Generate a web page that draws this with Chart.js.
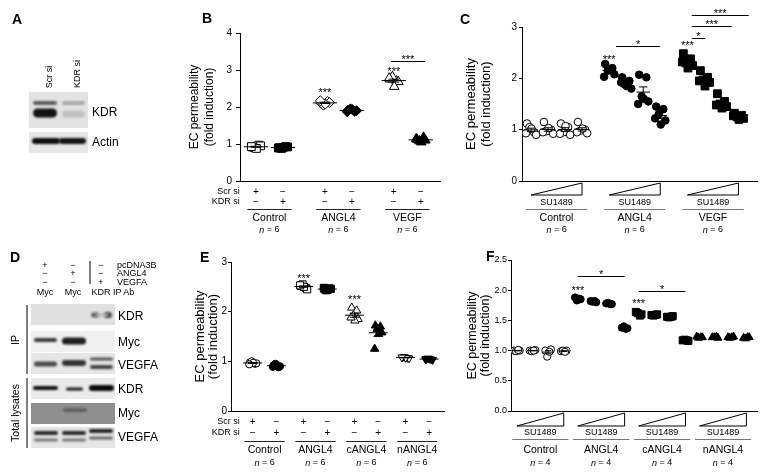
<!DOCTYPE html>
<html>
<head>
<meta charset="utf-8">
<script src="https://cdn.jsdelivr.net/npm/chart.js@4.4.0/dist/chart.umd.min.js"></script>
<style>
  body { margin: 0; background: #fff; width: 765px; height: 474px; position: relative; overflow: hidden;
         font-family: "Liberation Sans", Arial, sans-serif; }
  canvas { position: absolute; }
  .lbl { position: absolute; color: #000; white-space: nowrap; line-height: 1; }
</style>
</head>
<body>
<canvas id="blots" width="160" height="474" style="left:0;top:0"></canvas>
<script>
const FONT = '"Liberation Sans", Arial, sans-serif';
Chart.defaults.font.family = FONT;
Chart.defaults.color = '#000';

// ---- Panel B: EC permeability, Scr si vs KDR si ----
const bGroupNames = ['Control', 'ANGL4', 'VEGF'];
const bN = ['6', '6', '6'];
const bScrSi = [
  [0.92, 0.97, 0.90, 0.95, 0.88, 0.93],
  [2.10, 2.15, 2.05, 2.12, 2.08, 2.17],
  [2.75, 2.70, 2.82, 2.68, 2.55, 2.78]
];
const bKdrSi = [
  [0.90, 0.93, 0.88, 0.92, 0.91, 0.89],
  [1.92, 1.88, 1.95, 1.90, 1.93, 1.87],
  [1.12, 1.18, 1.08, 1.10, 1.05, 1.14]
];
const bYTicks = [0, 1, 2, 3, 4];

// ---- Panel C: SU1489 dose series (4 doses each) ----
const cGroupNames = ['Control', 'ANGL4', 'VEGF'];
const cN = ['6', '6', '6'];
const cControl = [
  [1.12, 0.95, 1.05, 0.90, 1.02, 0.93],
  [1.15, 1.00, 0.97, 0.92, 1.03, 0.95],
  [1.12, 1.05, 0.95, 0.90, 1.07, 0.92],
  [1.15, 1.00, 0.98, 0.93, 1.02, 0.95]
];
const cAngl4 = [
  [2.28, 2.20, 2.15, 2.08, 2.18, 2.03],
  [2.02, 1.95, 1.88, 1.80, 1.85, 1.92],
  [2.07, 2.02, 1.65, 1.55, 1.60, 1.50],
  [1.45, 1.40, 1.30, 1.18, 1.10, 1.22]
];
const cVegf = [
  [2.48, 2.38, 2.30, 2.25, 2.20, 2.32],
  [2.15, 2.02, 1.97, 1.92, 1.85, 1.95],
  [1.70, 1.55, 1.50, 1.45, 1.42, 1.48],
  [1.32, 1.28, 1.25, 1.22, 1.20, 1.27]
];
const cYTicks = [0, 1, 2, 3];

// ---- Panel E: Scr si vs KDR si, ANGL4 variants ----
const eGroupNames = ['Control', 'ANGL4', 'cANGL4', 'nANGL4'];
const eN = ['6', '6', '6', '6'];
const eScrSi = [
  [0.98, 0.95, 1.00, 0.96, 0.97, 0.94],
  [2.52, 2.48, 2.55, 2.45, 2.50, 2.53],
  [2.08, 2.02, 1.92, 1.85, 1.82, 1.88],
  [1.08, 1.07, 1.09, 1.06, 1.07, 1.08]
];
const eKdrSi = [
  [0.92, 0.88, 0.95, 0.90, 0.93, 0.89],
  [2.45, 2.47, 2.43, 2.46, 2.44, 2.48],
  [1.72, 1.70, 1.65, 1.58, 1.55, 1.25],
  [1.05, 1.04, 1.06, 1.03, 1.05, 1.04]
];
const eYTicks = [0, 1, 2, 3];

// ---- Panel F: SU1489 dose series, ANGL4 variants ----
const fGroupNames = ['Control', 'ANGL4', 'cANGL4', 'nANGL4'];
const fN = ['4', '4', '4', '4'];
const fControl = [[1.00, 1.00, 0.99, 1.01], [1.00, 1.01, 0.99, 1.00], [1.00, 1.02, 0.90, 0.98], [0.99, 1.00, 1.00, 0.98]];
const fAngl4 = [[1.88, 1.85, 1.83, 1.86], [1.82, 1.80, 1.81, 1.82], [1.78, 1.77, 1.79, 1.77], [1.38, 1.37, 1.40, 1.36]];
const fCangl4 = [[1.64, 1.60, 1.62, 1.58], [1.59, 1.60, 1.58, 1.59], [1.56, 1.57, 1.55, 1.56], [1.17, 1.16, 1.18, 1.17]];
const fNangl4 = [[1.23, 1.22, 1.21, 1.22], [1.22, 1.21, 1.22, 1.23], [1.22, 1.23, 1.21, 1.22], [1.21, 1.22, 1.20, 1.22]];
const fYTicks = [0, 0.5, 1.0, 1.5, 2.0, 2.5];

const siRowLabels = ['Scr si', 'KDR si'];
const siSigns = [['+', '\u2212'], ['\u2212', '+']];

// horizontal spread of the dots inside one column
const jit6 = [-0.8, 0.6, -0.3, 1.0, 0.1, -1.0];
const jit4 = [-0.9, 0.9, -0.3, 0.4];

// ---------------------------------------------------------------------------
const decor = new Map();

function dots(values, x, spread, style, filled, radius, meanW, capW, rotation) {
  const jit = values.length === 4 ? jit4 : jit6;
  return {
    data: values.map((v, i) => ({ x: x + jit[i] * spread, y: v })),
    pointStyle: style,
    pointRadius: radius,
    pointRotation: rotation || 0,
    pointBorderWidth: 1,
    pointBackgroundColor: filled ? '#000' : '#fff',
    pointBorderColor: '#000',
    stat: { x: x, w: meanW, cap: capW }
  };
}

function stars(ctx, text, x, y) {
  ctx.font = '11px ' + FONT;
  ctx.textAlign = 'center';
  ctx.textBaseline = 'alphabetic';
  ctx.fillText(text, x, y + 6.4);
}

const decorPlugin = {
  id: 'decor',
  afterDatasetsDraw(chart) {
    const ctx = chart.ctx, xs = chart.scales.x, ys = chart.scales.y;
    const u = xs.getPixelForValue(1) - xs.getPixelForValue(0);
    ctx.save();
    ctx.strokeStyle = '#000';
    ctx.lineWidth = 1;
    chart.data.datasets.forEach(ds => {
      if (!ds.stat) return;
      const v = ds.data.map(p => p.y);
      const m = v.reduce((a, b) => a + b, 0) / v.length;
      const sd = Math.sqrt(v.reduce((a, b) => a + (b - m) * (b - m), 0) / (v.length - 1));
      const sem = sd / Math.sqrt(v.length);
      const cx = xs.getPixelForValue(ds.stat.x);
      const ym = ys.getPixelForValue(m), yt = ys.getPixelForValue(m + sem), yb = ys.getPixelForValue(m - sem);
      const hw = ds.stat.w * u, cw = ds.stat.cap * u;
      ctx.beginPath();
      ctx.moveTo(cx - hw, ym); ctx.lineTo(cx + hw, ym);
      ctx.moveTo(cx, yt); ctx.lineTo(cx, yb);
      ctx.moveTo(cx - cw, yt); ctx.lineTo(cx + cw, yt);
      ctx.moveTo(cx - cw, yb); ctx.lineTo(cx + cw, yb);
      ctx.stroke();
    });
    ctx.restore();
  },
  afterDraw(chart) {
    const d = decor.get(chart.canvas.id);
    if (!d) return;
    const ctx = chart.ctx, xs = chart.scales.x, ys = chart.scales.y, a = chart.chartArea;
    const X = v => xs.getPixelForValue(v), Y = v => ys.getPixelForValue(v);
    const u = X(1) - X(0);
    ctx.save();
    ctx.fillStyle = '#000';
    ctx.strokeStyle = '#000';
    ctx.lineWidth = 1;

    // y axis title
    ctx.font = d.titleSize + 'px ' + FONT;
    ctx.textAlign = 'center';
    ctx.textBaseline = 'middle';
    const cy = (a.top + a.bottom) / 2;
    d.title.forEach((t, i) => {
      ctx.save();
      ctx.translate(a.left + d.titleX[i], cy);
      ctx.rotate(-Math.PI / 2);
      ctx.fillText(t, 0, 0);
      ctx.restore();
    });

    // +/- rows
    if (d.rows) {
      ctx.textBaseline = 'middle';
      const firstX = X(d.groups[0].members[0]) - d.rows.labelGap * u;
      d.rows.labels.forEach((lab, r) => {
        const y = a.bottom + d.rows.dy[r];
        ctx.font = '9px ' + FONT;
        ctx.textAlign = 'right';
        ctx.fillText(lab, firstX, y);
        ctx.font = '10px ' + FONT;
        ctx.textAlign = 'center';
        d.groups.forEach(g => g.members.forEach((mx, k) => ctx.fillText(d.rows.signs[r][k], X(mx), y)));
      });
    }

    d.groups.forEach(g => {
      const x0 = X(g.members[0]), x1 = X(g.members[g.members.length - 1]);
      const mid = (x0 + x1) / 2;
      // dose wedge
      if (d.wedge) {
        ctx.strokeStyle = '#000';
        ctx.beginPath();
        ctx.moveTo(x0, a.bottom + d.wedge.bot);
        ctx.lineTo(x1, a.bottom + d.wedge.bot);
        ctx.lineTo(x1, a.bottom + d.wedge.top);
        ctx.closePath();
        ctx.stroke();
        ctx.font = '9px ' + FONT;
        ctx.textAlign = 'center';
        ctx.textBaseline = 'middle';
        ctx.fillText(d.wedge.text, mid, a.bottom + d.wedge.textDy);
      }
      // group line
      ctx.strokeStyle = d.lineColor;
      ctx.beginPath();
      ctx.moveTo(x0 - d.linePad * u, a.bottom + d.lineDy + 0.5);
      ctx.lineTo(x1 + d.linePad * u, a.bottom + d.lineDy + 0.5);
      ctx.stroke();
      // name
      ctx.font = '10.5px ' + FONT;
      ctx.textAlign = 'center';
      ctx.textBaseline = 'middle';
      ctx.fillText(g.name, mid, a.bottom + d.nameDy);
      // n = ..
      ctx.font = 'italic 9px ' + FONT;
      const w1 = ctx.measureText('n').width;
      ctx.font = '9px ' + FONT;
      const rest = ' = ' + g.n;
      const w2 = ctx.measureText(rest).width;
      const sx = mid - (w1 + w2) / 2;
      ctx.textAlign = 'left';
      ctx.font = 'italic 9px ' + FONT;
      ctx.fillText('n', sx, a.bottom + d.nDy);
      ctx.font = '9px ' + FONT;
      ctx.fillText(rest, sx + w1, a.bottom + d.nDy);
    });

    // significance
    ctx.strokeStyle = '#000';
    (d.stars || []).forEach(s => stars(ctx, s.t, X(s.x), Y(s.y)));
    (d.brackets || []).forEach(b => {
      const y = Math.round(Y(b.y)) + 0.5;
      ctx.beginPath();
      ctx.moveTo(X(b.x1), y); ctx.lineTo(X(b.x2), y);
      ctx.stroke();
      stars(ctx, b.t, (X(b.x1) + X(b.x2)) / 2, y - 5);
    });
    ctx.restore();
  }
};

function makeChart(id, box, area, xr, yTicks, tick, datasets, cfg) {
  const cv = document.createElement('canvas');
  cv.id = id;
  cv.width = box.w; cv.height = box.h;
  cv.style.left = box.x + 'px'; cv.style.top = box.y + 'px';
  document.body.appendChild(cv);
  decor.set(id, cfg);
  const yW = 30;
  return new Chart(cv, {
    type: 'scatter',
    data: { datasets },
    options: {
      responsive: false,
      animation: false,
      devicePixelRatio: 1,
      events: [],
      layout: { padding: { left: area.l - box.x - yW, right: box.x + box.w - area.r, top: area.t - box.y, bottom: box.y + box.h - area.b } },
      plugins: { legend: { display: false }, tooltip: { enabled: false } },
      scales: {
        x: {
          type: 'linear', min: xr[0], max: xr[1],
          ticks: { display: false }, grid: { display: false },
          border: { color: '#000', width: 1 },
          afterFit: s => { s.height = 0; }
        },
        y: {
          type: 'linear', min: yTicks[0], max: yTicks[yTicks.length - 1],
          afterBuildTicks: s => { s.ticks = yTicks.map(v => ({ value: v })); },
          ticks: { color: '#000', font: { size: tick.size }, padding: tick.pad, callback: tick.fmt },
          grid: { drawOnChartArea: false, color: '#000', tickLength: tick.len, lineWidth: 1 },
          border: { color: '#000', width: 1 },
          afterFit: s => { s.width = yW; }
        }
      }
    },
    plugins: [decorPlugin]
  });
}

const intFmt = v => String(v);
const decFmt = v => Number(v).toFixed(1);
const yTitle = ['EC permeability', '(fold induction)'];

// ---- B ----
const bPos = (g, k) => g * 2.55 + k;
const bStyles = [['rect', 5.5], ['rectRot', 5], ['triangle', 5.5]];
const bSets = [];
bGroupNames.forEach((n, g) => {
  bSets.push(dots(bScrSi[g], bPos(g, 0), 0.17, bStyles[g][0], false, bStyles[g][1], 0.45, 0.2));
  bSets.push(dots(bKdrSi[g], bPos(g, 1), 0.17, bStyles[g][0], true, bStyles[g][1], 0.45, 0.2));
});
makeChart('chartB', { x: 150, y: 0, w: 300, h: 240 }, { l: 240, r: 440, t: 33, b: 181 },
  [-0.59, 6.81], bYTicks, { fmt: intFmt, size: 10, len: 4, pad: 4 }, bSets, {
    title: yTitle, titleX: [-45, -30], titleSize: 12,
    groups: bGroupNames.map((name, g) => ({ name, n: bN[g], members: [bPos(g, 0), bPos(g, 1)] })),
    rows: { labels: siRowLabels, dy: [11, 21], signs: siSigns, labelGap: 0.6 },
    lineDy: 28, nameDy: 37, nDy: 49, linePad: 0.32, lineColor: '#222',
    stars: [{ x: bPos(1, 0), y: 2.46, t: '***' }, { x: bPos(2, 0), y: 3.03, t: '***' }],
    brackets: [{ x1: bPos(2, 0) - 0.1, x2: bPos(2, 1) + 0.15, y: 3.24, t: '***' }]
  });

// ---- C ----
const cPos = (g, k) => g * 4.6 + k;
const cSeries = [cControl, cAngl4, cVegf];
const cStyles = [['circle', false, 3.8], ['circle', true, 3.8], ['rect', true, 5.5]];
const cSets = [];
cSeries.forEach((ser, g) => ser.forEach((vals, k) =>
  cSets.push(dots(vals, cPos(g, k), 0.3, cStyles[g][0], cStyles[g][1], cStyles[g][2], 0.4, 0.25))));
makeChart('chartC', { x: 445, y: 0, w: 320, h: 240 }, { l: 522, r: 757, t: 27, b: 181 },
  [-0.53, 13.29], cYTicks, { fmt: intFmt, size: 10, len: 3, pad: 2 }, cSets, {
    title: yTitle, titleX: [-51, -36], titleSize: 13,
    groups: cGroupNames.map((name, g) => ({ name, n: cN[g], members: [0, 1, 2, 3].map(k => cPos(g, k)) })),
    wedge: { top: 2, bot: 14, text: 'SU1489', textDy: 22 },
    lineDy: 28, nameDy: 37, nDy: 49, linePad: 0.3, lineColor: '#777',
    stars: [{ x: cPos(1, 0), y: 2.42, t: '***' }, { x: cPos(2, 0), y: 2.69, t: '***' }],
    brackets: [
      { x1: cPos(1, 0) + 0.4, x2: cPos(1, 3), y: 2.63, t: '*' },
      { x1: cPos(2, 0) + 0.25, x2: cPos(2, 1) + 0.05, y: 2.79, t: '*' },
      { x1: cPos(2, 0) + 0.25, x2: cPos(2, 2) + 0.6, y: 3.02, t: '***' },
      { x1: cPos(2, 0) + 0.25, x2: cPos(2, 3) + 0.6, y: 3.24, t: '***' }
    ]
  });

// ---- E ----
const ePos = (g, k) => g * 2.15 + k;
const eStyles = [['circle', 3.6, 0], ['rect', 5, 0], ['triangle', 4.8, 0], ['triangle', 4.5, 180]];
const eSets = [];
eGroupNames.forEach((n, g) => {
  eSets.push(dots(eScrSi[g], ePos(g, 0), 0.15, eStyles[g][0], false, eStyles[g][1], 0.4, 0.2, eStyles[g][2]));
  eSets.push(dots(eKdrSi[g], ePos(g, 1), 0.15, eStyles[g][0], true, eStyles[g][1], 0.4, 0.2, eStyles[g][2]));
});
makeChart('chartE', { x: 150, y: 235, w: 300, h: 239 }, { l: 231, r: 447, t: 262, b: 411 },
  [-0.92, 8.08], eYTicks, { fmt: intFmt, size: 10, len: 3, pad: 1 }, eSets, {
    title: yTitle, titleX: [-31, -18], titleSize: 13,
    groups: eGroupNames.map((name, g) => ({ name, n: eN[g], members: [ePos(g, 0), ePos(g, 1)] })),
    rows: { labels: siRowLabels, dy: [11, 22], signs: siSigns, labelGap: 0.55 },
    lineDy: 30, nameDy: 39, nDy: 52, linePad: 0.35, lineColor: '#222',
    stars: [{ x: ePos(1, 0), y: 2.72, t: '***' }, { x: ePos(2, 0), y: 2.31, t: '***' }]
  });

// ---- F ----
const fPos = (g, k) => g * 3.9 + k;
const fSeries = [fControl, fAngl4, fCangl4, fNangl4];
const fStyles = [['circle', false, 3.6], ['circle', true, 3.6], ['rect', true, 5], ['triangle', true, 4.6]];
const fSets = [];
fSeries.forEach((ser, g) => ser.forEach((vals, k) =>
  fSets.push(dots(vals, fPos(g, k), 0.2, fStyles[g][0], fStyles[g][1], fStyles[g][2], 0.35, 0.2))));
makeChart('chartF', { x: 450, y: 235, w: 315, h: 239 }, { l: 511, r: 757, t: 260, b: 411 },
  [-0.38, 15.38], fYTicks, { fmt: decFmt, size: 9, len: 3, pad: 1 }, fSets, {
    title: yTitle, titleX: [-38, -25], titleSize: 12.5,
    groups: fGroupNames.map((name, g) => ({ name, n: fN[g], members: [0, 1, 2, 3].map(k => fPos(g, k)) })),
    wedge: { top: 2, bot: 15, text: 'SU1489', textDy: 22 },
    lineDy: 28, nameDy: 39, nDy: 52, linePad: 0.3, lineColor: '#777',
    stars: [{ x: fPos(1, 0), y: 2.04, t: '***' }, { x: fPos(2, 0), y: 1.83, t: '***' }],
    brackets: [
      { x1: fPos(1, 0), x2: fPos(1, 3), y: 2.23, t: '*' },
      { x1: fPos(2, 0), x2: fPos(2, 3), y: 1.99, t: '*' }
    ]
  });

// ---------------------------------------------------------------------------
// Western blot panels A and D
const aBoxes = [[29, 92, 59, 36, '#e3e3e3'], [29, 132, 59, 21, '#e6e6e6']];
const aBands = [
  [33, 57, 103, 4, '#5a5a5a'], [33, 57, 113, 9, '#111'], [62, 85, 103, 4, '#a8a8a8'], [62, 85, 114, 7, '#c0c0c0'],
  [32, 60, 141, 6, '#0d0d0d'], [59, 86, 141, 6, '#141414']
];
const dBoxes = [[31, 304, 84, 21, '#e0e0e0'], [31, 331, 84, 21, '#f0f0f0'], [31, 353, 84, 21, '#e6e6e6'],
  [31, 378, 84, 21, '#eaeaea'], [31, 403, 84, 21, '#8f8f8f'], [31, 427, 84, 21, '#e6e6e6']];
const dBands = [
  [91, 99, 315, 5, '#666'], [104, 112, 315, 6, '#4a4a4a'], [96, 108, 315, 3, '#b5b5b5'],
  [34, 57, 340, 4, '#3a3a3a'], [62, 86, 341, 7, '#1e1e1e'],
  [34, 57, 364, 5, '#4a4a4a'], [62, 86, 363, 6, '#333'], [90, 113, 359, 3, '#555'], [90, 113, 367, 4, '#444'],
  [33, 58, 388, 4, '#111'], [66, 83, 389, 3, '#1a1a1a'], [89, 114, 388, 6, '#0a0a0a'],
  [63, 87, 410, 4, '#606060'],
  [34, 58, 433, 4, '#2a2a2a'], [34, 58, 440, 3, '#777'], [62, 86, 433, 4, '#2a2a2a'], [62, 86, 440, 3, '#777'],
  [89, 113, 431, 4, '#222'], [89, 113, 438, 3, '#666']
];

const bctx = document.getElementById('blots').getContext('2d');
function blot(boxes, bands) {
  boxes.forEach(([x, y, w, h, c]) => {
    bctx.fillStyle = c;
    bctx.fillRect(x, y, w, h);
  });
  bands.forEach(([x1, x2, y, h, c]) => {
    bctx.save();
    bctx.filter = 'blur(0.9px)';
    bctx.fillStyle = c;
    bctx.beginPath();
    bctx.roundRect(x1, y - h / 2, x2 - x1, h, h / 2);
    bctx.fill();
    bctx.restore();
  });
}
blot(aBoxes, aBands);
blot(dBoxes, dBands);
bctx.strokeStyle = '#555';
bctx.lineWidth = 1.5;
[[90, 261, 284], [27, 305, 374], [27, 378, 448]].forEach(([x, y1, y2]) => {
  bctx.beginPath(); bctx.moveTo(x, y1); bctx.lineTo(x, y2); bctx.stroke();
});

function label(text, x, y, o) {
  o = o || {};
  const el = document.createElement('div');
  el.className = 'lbl';
  el.textContent = text;
  el.style.fontSize = (o.size || 12) + 'px';
  if (o.bold) el.style.fontWeight = 'bold';
  el.style.left = x + 'px';
  el.style.top = y + 'px';
  const tx = o.align === 'center' || o.rot ? '-50%' : o.align === 'right' ? '-100%' : '0';
  el.style.transform = 'translate(' + tx + ', -50%)' + (o.rot ? ' rotate(-90deg)' : '');
  document.body.appendChild(el);
}

// panel letters
[['A', 12, 19], ['B', 202, 18], ['C', 460, 19], ['D', 10, 257], ['E', 200, 257], ['F', 486, 256]]
  .forEach(([t, x, y]) => label(t, x, y, { size: 14, bold: true }));

// A labels
label('Scr si', 49, 77, { size: 9, rot: true });
label('KDR si', 77, 74, { size: 9, rot: true });
label('KDR', 92, 112);
label('Actin', 92, 142);

// D labels
const dLanes = [45, 73, 101];
const dTreat = ['pcDNA3B', 'ANGL4', 'VEGFA'];
const dSigns = [['+', '\u2212', '\u2212'], ['\u2212', '+', '\u2212'], ['\u2212', '\u2212', '+']];
const dRowY = [265, 273, 282];
dTreat.forEach((t, r) => {
  dSigns[r].forEach((s, k) => label(s, dLanes[k], dRowY[r], { size: 9, align: 'center' }));
  label(t, 117, dRowY[r], { size: 9 });
});
['Myc', 'Myc', 'KDR'].forEach((t, k) => label(t, dLanes[k], 292, { size: 9, align: 'center' }));
label('IP Ab', 113, 292, { size: 9 });
label('IP', 15, 340, { size: 10.5, rot: true });
label('Total lysates', 15, 413, { size: 10.5, rot: true });
[['KDR', 316], ['Myc', 342], ['VEGFA', 365], ['KDR', 389], ['Myc', 413], ['VEGFA', 437]]
  .forEach(([t, y]) => label(t, 118, y));
</script>
</body>
</html>
